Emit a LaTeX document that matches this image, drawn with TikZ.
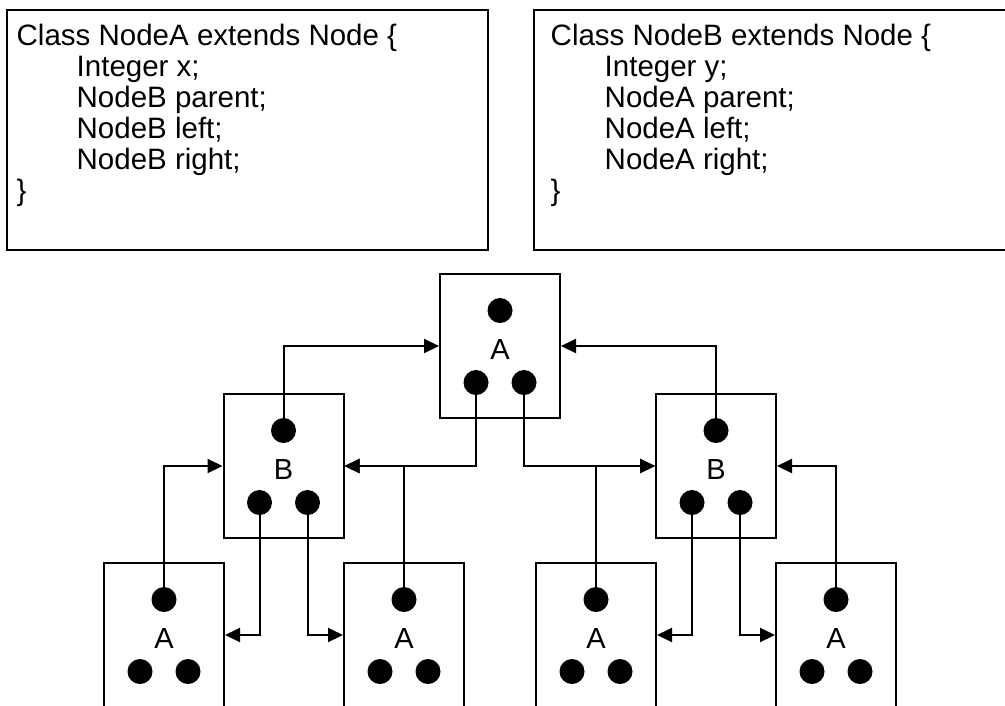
\documentclass[tikz,border=0pt]{standalone}
\usepackage{fontspec}
\setmainfont{Liberation Sans}
\usetikzlibrary{arrows.meta}

\begin{document}
\begin{tikzpicture}[x=1pt,y=-1pt,
  codeline/.style={anchor=base west,inner sep=0pt,font=\fontsize{29.5}{31}\selectfont},
  classbox/.style={draw,line width=2pt},
  objbox/.style={draw,line width=2pt,minimum width=120pt,minimum height=144pt,inner sep=0pt},
  field/.style={circle,fill=black,inner sep=0pt,minimum size=25pt},
  kind/.style={inner sep=0pt,font=\fontsize{29}{31}\selectfont},
  ptr/.style={line width=2pt,-{Triangle[length=15pt,width=14pt]}}]

\useasboundingbox (0,0) rectangle (1005,705);
\clip (0,0) rectangle (1005,705);

% class declarations
\draw[classbox] (7,10) rectangle (488,250);
\draw[classbox] (534,10) rectangle (1012,250);

\node[codeline] (ca1) at (16.5,45)  {Class NodeA extends Node \{};
\node[codeline] (ca2) at (76.5,76)  {Integer x;};
\node[codeline] (ca3) at (76.5,107) {NodeB parent;};
\node[codeline] (ca4) at (76.5,138) {NodeB left;};
\node[codeline] (ca5) at (76.5,169) {NodeB right;};
\node[codeline] (ca6) at (16.5,200) {\}};

\node[codeline] (cb1) at (550.5,45)  {Class NodeB extends Node \{};
\node[codeline] (cb2) at (604.5,76)  {Integer y;};
\node[codeline] (cb3) at (604.5,107) {NodeA parent;};
\node[codeline] (cb4) at (604.5,138) {NodeA left;};
\node[codeline] (cb5) at (604.5,169) {NodeA right;};
\node[codeline] (cb6) at (550.5,200) {\}};

% object: box, label, parent field on top, left/right fields below
\newcommand{\objnode}[4]{%
  \node[objbox] (#1) at (#2,#3) {};
  \node[kind] (#1-k) at (#2,#3+4) {#4};
  \node[field] (#1-p) at (#2,#3-35.5) {};
  \node[field] (#1-l) at (#2-24,#3+36.5) {};
  \node[field] (#1-r) at (#2+24,#3+36.5) {};
}

\objnode{a0}{500}{346}{A}
\objnode{b1}{283.5}{466}{B}
\objnode{b2}{716}{466}{B}
\objnode{a1}{164}{635}{A}
\objnode{a2}{404}{635}{A}
\objnode{a3}{596}{635}{A}
\objnode{a4}{836}{635}{A}

% parent pointers
\draw[ptr] (b1-p.center) |- (a0.west);
\draw[ptr] (b2-p.center) |- (a0.east);
\draw[ptr] (a1-p.center) |- (b1.west);
\draw[ptr] (a2-p.center) |- (b1.east);
\draw[ptr] (a3-p.center) |- (b2.west);
\draw[ptr] (a4-p.center) |- (b2.east);

% child pointers
\draw[ptr] (a0-l.center) |- (b1.east);
\draw[ptr] (a0-r.center) |- (b2.west);
\draw[ptr] (b1-l.center) |- (a1.east);
\draw[ptr] (b1-r.center) |- (a2.west);
\draw[ptr] (b2-l.center) |- (a3.east);
\draw[ptr] (b2-r.center) |- (a4.west);
\end{tikzpicture}
\end{document}
